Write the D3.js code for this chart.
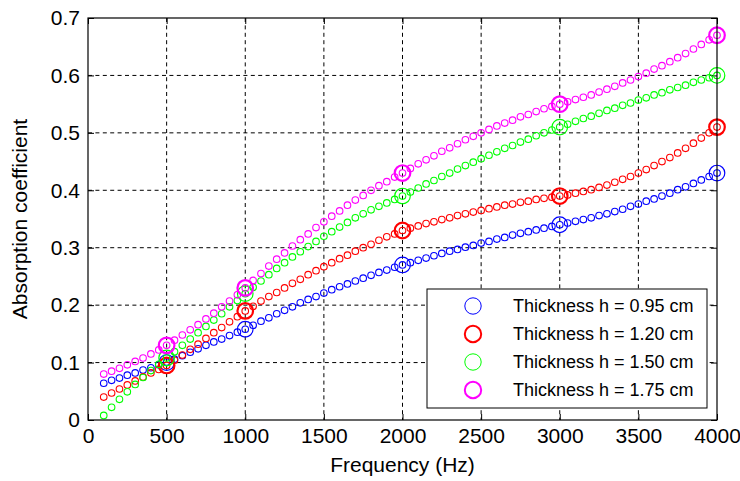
<!DOCTYPE html>
<html>
<head>
<meta charset="utf-8">
<title>Absorption coefficient</title>
<script src="https://d3js.org/d3.v7.min.js"></script>
<style>
  body { margin: 0; background: #fff; }
  text { font-family: "Liberation Sans", Arial, sans-serif; fill: #000; }
</style>
</head>
<body>
<div id="chart"></div>
<script>
// frequencies of the dense curves (Hz)
var freq = [100,150,200,250,300,350,400,450,500,550,600,650,700,750,800,850,900,950,1000,
  1050,1100,1150,1200,1250,1300,1350,1400,1450,1500,1550,1600,1650,1700,1750,1800,1850,1900,1950,2000,
  2050,2100,2150,2200,2250,2300,2350,2400,2450,2500,2550,2600,2650,2700,2750,2800,2850,2900,2950,3000,
  3050,3100,3150,3200,3250,3300,3350,3400,3450,3500,3550,3600,3650,3700,3750,3800,3850,3900,3950,4000];

// dense curves
var h095 = [0.064,0.069,0.073,0.078,0.082,0.087,0.091,0.096,0.101,
  0.106,0.112,0.118,0.124,0.130,0.136,0.141,0.147,0.153,0.158,
  0.165,0.172,0.178,0.185,0.191,0.197,0.204,0.210,0.215,0.221,
  0.227,0.232,0.237,0.242,0.247,0.252,0.257,0.261,0.266,0.270,
  0.274,0.278,0.282,0.286,0.290,0.294,0.297,0.301,0.304,0.308,
  0.311,0.315,0.318,0.322,0.325,0.328,0.331,0.334,0.337,0.340,
  0.343,0.346,0.349,0.352,0.356,0.359,0.363,0.367,0.372,0.376,
  0.381,0.385,0.390,0.395,0.401,0.406,0.412,0.418,0.424,0.430];
var h120 = [0.040,0.047,0.054,0.061,0.068,0.075,0.082,0.088,0.095,
  0.104,0.113,0.123,0.132,0.142,0.152,0.161,0.171,0.180,0.190,
  0.198,0.207,0.215,0.222,0.230,0.238,0.245,0.253,0.260,0.267,
  0.274,0.281,0.287,0.294,0.300,0.306,0.313,0.319,0.324,0.330,
  0.334,0.338,0.342,0.345,0.349,0.352,0.356,0.359,0.362,0.365,
  0.368,0.371,0.374,0.376,0.379,0.381,0.384,0.386,0.388,0.390,
  0.392,0.395,0.398,0.401,0.405,0.409,0.414,0.419,0.424,0.430,
  0.436,0.443,0.450,0.457,0.465,0.473,0.482,0.491,0.500,0.510];
var h150 = [0.008,0.022,0.036,0.049,0.062,0.074,0.086,0.097,0.108,
  0.119,0.130,0.141,0.152,0.163,0.174,0.185,0.197,0.208,0.220,
  0.231,0.242,0.253,0.264,0.274,0.284,0.293,0.302,0.311,0.320,
  0.328,0.336,0.344,0.352,0.359,0.366,0.372,0.378,0.384,0.390,
  0.397,0.404,0.411,0.417,0.424,0.430,0.437,0.443,0.449,0.455,
  0.461,0.467,0.473,0.478,0.484,0.489,0.495,0.500,0.505,0.510,
  0.515,0.520,0.525,0.529,0.534,0.539,0.543,0.548,0.552,0.557,
  0.561,0.566,0.570,0.575,0.579,0.583,0.588,0.592,0.596,0.600];
var h175 = [0.080,0.085,0.090,0.096,0.102,0.108,0.115,0.122,0.130,
  0.139,0.148,0.157,0.166,0.176,0.186,0.197,0.207,0.218,0.230,
  0.243,0.255,0.268,0.280,0.291,0.303,0.314,0.324,0.335,0.345,
  0.355,0.364,0.374,0.383,0.391,0.400,0.408,0.415,0.423,0.430,
  0.438,0.446,0.453,0.460,0.468,0.474,0.481,0.488,0.494,0.500,
  0.506,0.512,0.517,0.522,0.528,0.532,0.537,0.542,0.546,0.550,
  0.554,0.558,0.562,0.566,0.571,0.576,0.581,0.587,0.592,0.598,
  0.604,0.611,0.617,0.624,0.631,0.638,0.646,0.654,0.662,0.670];

// measured points (big markers)
var measFreq = [500,1000,2000,3000,4000];
var m095 = [0.100,0.158,0.270,0.340,0.430];
var m120 = [0.095,0.190,0.330,0.390,0.510];
var m150 = [0.108,0.220,0.390,0.510,0.600];
var m175 = [0.130,0.230,0.430,0.550,0.670];

var names = ["Thickness h = 0.95 cm","Thickness h = 1.20 cm","Thickness h = 1.50 cm","Thickness h = 1.75 cm"];
var xTicks = [0,500,1000,1500,2000,2500,3000,3500,4000];
var yTicks = [0,0.1,0.2,0.3,0.4,0.5,0.6,0.7];

var colors = ["#0000ff","#ff0000","#00ff00","#ff00ff"];
var widths = [1,2,1,2];
var dense = [h095,h120,h150,h175];
var meas = [m095,m120,m150,m175];

var mLeft = 88, mTop = 18, W = 629, H = 402;

var svg = d3.select("#chart").append("svg")
    .attr("width", 740).attr("height", 481);

var g = svg.append("g").attr("transform", "translate(" + mLeft + "," + mTop + ")");

var x = d3.scaleLinear().domain([0,4000]).range([0,W]);
var y = d3.scaleLinear().domain([0,0.7]).range([H,0]);

// grid
g.append("g").selectAll("line").data(xTicks.slice(1,-1)).enter().append("line")
    .attr("x1", d => x(d)).attr("x2", d => x(d)).attr("y1", 0).attr("y2", H)
    .attr("stroke", "#000").attr("stroke-width", 1).attr("stroke-dasharray", "4,3.4");
g.append("g").selectAll("line").data(yTicks.slice(1,-1)).enter().append("line")
    .attr("y1", d => y(d)).attr("y2", d => y(d)).attr("x1", 0).attr("x2", W)
    .attr("stroke", "#000").attr("stroke-width", 1).attr("stroke-dasharray", "4,3.4");

// axes (ticks inside, like matlab)
function styleAxis(sel, fs) {
  sel.select(".domain").remove();
  sel.selectAll("line").attr("stroke", "#000");
  sel.selectAll("text").style("font-size", fs).attr("fill", "#000");
}
g.append("g").attr("transform", "translate(0," + H + ")")
    .call(d3.axisBottom(x).tickValues(xTicks).tickFormat(String).tickSize(-6).tickPadding(8))
    .call(styleAxis, "21px");
g.append("g")
    .call(d3.axisLeft(y).tickValues(yTicks).tickFormat(String).tickSize(-6).tickPadding(8))
    .call(styleAxis, "21px");
g.append("g")
    .call(d3.axisTop(x).tickValues(xTicks).tickFormat("").tickSize(-6))
    .call(styleAxis, "21px");
g.append("g").attr("transform", "translate(" + W + ",0)")
    .call(d3.axisRight(y).tickValues(yTicks).tickFormat("").tickSize(-6))
    .call(styleAxis, "21px");

// series
for (var s = 0; s < 4; s++) {
  var pts = freq.map(function(f, i) { return [f, dense[s][i]]; });
  g.append("g").selectAll("circle").data(pts).enter().append("circle")
      .attr("cx", d => x(d[0])).attr("cy", d => y(d[1])).attr("r", 3.3)
      .attr("fill", "none").attr("stroke", colors[s]).attr("stroke-width", 1.1);
  var mp = measFreq.map(function(f, i) { return [f, meas[s][i]]; });
  g.append("g").selectAll("circle").data(mp).enter().append("circle")
      .attr("cx", d => x(d[0])).attr("cy", d => y(d[1])).attr("r", 7.8)
      .attr("fill", "none").attr("stroke", colors[s]).attr("stroke-width", widths[s] + 0.2);
}

// box
g.append("rect").attr("width", W).attr("height", H)
    .attr("fill", "none").attr("stroke", "#000").attr("stroke-width", 1.2);

// axis labels
g.append("text").attr("x", W / 2).attr("y", H + 52)
    .attr("text-anchor", "middle").style("font-size", "21px").text("Frequency (Hz)");
g.append("text").attr("transform", "translate(" + (-61) + "," + (H / 2) + ") rotate(-90)")
    .attr("text-anchor", "middle").style("font-size", "21px").text("Absorption coefficient");

// legend
var lg = svg.append("g").attr("transform", "translate(427,289)");
lg.append("rect").attr("width", 280).attr("height", 119)
    .attr("fill", "#fff").attr("stroke", "#000").attr("stroke-width", 1);
names.forEach(function(n, i) {
  var row = lg.append("g").attr("transform", "translate(0," + (17 + i * 28) + ")");
  row.append("circle").attr("cx", 46).attr("cy", 0).attr("r", 8.2)
      .attr("fill", "none").attr("stroke", colors[i]).attr("stroke-width", widths[i]);
  row.append("text").attr("x", 86).attr("y", 0).attr("dy", "0.35em")
      .style("font-size", "18px").text(n);
});
</script>
</body>
</html>
